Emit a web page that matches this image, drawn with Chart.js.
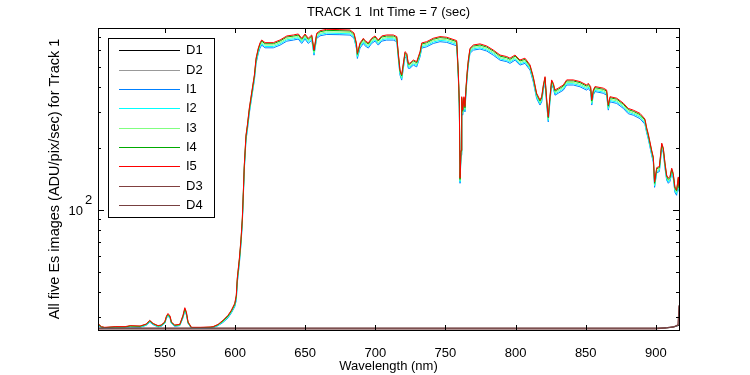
<!DOCTYPE html>
<html>
<head>
<meta charset="utf-8">
<script src="https://cdn.jsdelivr.net/npm/chart.js@4.4.1/dist/chart.umd.min.js"></script>
<style>
html, body { margin: 0; padding: 0; background: #fff; }
</style>
</head>
<body>
<canvas id="chart" width="750" height="375"></canvas>
<script>
// wavelengths (nm) for the five lit images
const wavelength = [502.3, 504.7, 507.1, 514.5, 521.6, 525.2, 532.3, 536.6, 539.2, 541.6,
	545.1, 547.3, 549.9, 551.1, 552.2, 553.7, 554.6, 557.0, 560.6, 562.9,
	564.2, 565.3, 566.5, 568.9, 575.1, 582.2, 584.3, 587.9, 591.4, 595.0,
	597.4, 599.8, 600.9, 601.6, 603.1, 604.3, 605.2, 605.9, 606.6, 607.8,
	608.8, 610.2, 611.9, 613.8, 615.0, 616.6, 617.8, 619.0, 621.4, 627.3,
	632.1, 636.9, 641.6, 645.1, 647.5, 649.9, 652.2, 654.7, 656.3, 658.2,
	660.6, 665.4, 674.8, 682.0, 684.8, 686.5, 687.2, 689.1, 691.5, 692.7,
	695.0, 697.4, 699.8, 702.1, 704.6, 708.1, 712.8, 715.3, 716.4, 717.6,
	718.8, 720.0, 721.2, 722.4, 723.5, 724.7, 727.1, 729.5, 730.7, 731.9,
	733.1, 736.6, 741.3, 746.1, 750.9, 758.0, 758.5, 759.2, 759.9, 760.4,
	761.1, 761.6, 762.3, 763.2, 763.9, 764.7, 765.6, 766.3, 767.5, 769.9,
	774.6, 779.4, 784.1, 788.9, 793.7, 796.0, 799.6, 803.1, 806.7, 810.3,
	812.6, 815.0, 817.4, 818.6, 819.8, 821.0, 822.2, 823.3, 824.5, 825.7,
	826.9, 828.1, 830.4, 834.0, 836.4, 841.1, 845.9, 850.7, 851.8, 853.5,
	854.3, 855.4, 856.6, 862.5, 864.9, 866.1, 867.3, 872.1, 876.8, 880.3,
	883.9, 888.7, 892.2, 893.4, 894.6, 895.8, 897.0, 898.2, 899.1, 900.6,
	902.5, 904.2, 905.3, 906.5, 907.7, 908.9, 910.1, 911.3, 912.4, 913.6,
	914.8, 916.0, 916.5];

const i5 = [28.0, 27.0, 26.8, 27.0, 27.0, 27.3, 27.2, 27.8, 29.0, 28.0,
	27.3, 27.5, 28.5, 30.4, 31.3, 30.4, 28.5, 27.5, 27.7, 30.7,
	33.4, 31.9, 28.5, 26.8, 26.8, 26.9, 27.0, 27.7, 29.0, 30.7,
	32.5, 35.1, 38.5, 46.6, 58.3, 73.0, 91.4, 122, 166, 232,
	260, 315, 376, 456, 551, 617, 653, 675, 655, 655,
	675, 706, 714, 722, 688, 722, 688, 714, 603, 728,
	749, 761, 758, 755, 730, 653, 581, 653, 688, 670,
	653, 688, 706, 675, 706, 714, 714, 701, 581, 482,
	456, 520, 592, 581, 520, 520, 539, 529, 560, 592,
	653, 662, 688, 701, 696, 670, 581, 464, 333, 143,
	196, 357, 307, 357, 319, 400, 482, 539, 615, 638,
	646, 631, 603, 570, 560, 550, 570, 539, 550, 510,
	447, 371, 344, 357, 407, 447, 344, 285, 357, 431,
	415, 385, 393, 407, 431, 431, 423, 407, 415, 400,
	344, 385, 400, 393, 385, 325, 357, 351, 332, 313,
	307, 296, 278, 253, 235, 215, 196, 181, 137, 161,
	163, 212, 201, 170, 148, 143, 146, 160, 151, 129.5,
	125, 145, 130];

const i4 = [27.8, 26.9, 26.7, 26.9, 26.9, 27.2, 27.1, 27.7, 28.8, 27.9,
	27.2, 27.4, 28.3, 30.2, 31.0, 30.1, 28.3, 27.4, 27.6, 30.4,
	33.0, 31.5, 28.3, 26.7, 26.7, 26.8, 26.9, 27.6, 28.8, 30.4,
	32.2, 34.7, 38.0, 46.0, 57.6, 72.1, 90.3, 121, 164, 229,
	257, 311, 371, 451, 544, 610, 645, 667, 647, 647,
	667, 698, 705, 713, 680, 713, 680, 705, 596, 719,
	740, 752, 749, 746, 721, 645, 574, 645, 680, 662,
	645, 680, 698, 667, 698, 705, 705, 693, 574, 476,
	451, 514, 585, 574, 514, 514, 533, 523, 553, 585,
	645, 654, 680, 693, 688, 662, 574, 458, 329, 141,
	194, 353, 303, 353, 315, 395, 476, 533, 608, 630,
	638, 623, 596, 563, 553, 543, 563, 533, 543, 504,
	442, 367, 340, 353, 402, 442, 340, 282, 353, 426,
	410, 380, 388, 402, 426, 426, 418, 402, 410, 395,
	340, 380, 395, 388, 380, 321, 353, 347, 328, 309,
	303, 292, 275, 250, 232, 212, 194, 179, 135, 159,
	161, 209, 199, 168, 146, 141, 144, 158, 149, 128,
	124, 143, 128];

const i3 = [27.7, 26.9, 26.7, 26.9, 26.9, 27.1, 27.0, 27.6, 28.7, 27.8,
	27.1, 27.3, 28.2, 30.0, 30.8, 30.0, 28.2, 27.3, 27.5, 30.2,
	32.7, 31.3, 28.2, 26.7, 26.7, 26.8, 26.9, 27.5, 28.6, 30.2,
	31.9, 34.4, 37.4, 45.3, 56.7, 71.0, 88.8, 119, 161, 226,
	253, 306, 365, 443, 536, 600, 635, 656, 637, 637,
	656, 686, 694, 702, 669, 702, 669, 694, 586, 708,
	728, 740, 737, 734, 710, 635, 565, 635, 669, 651,
	635, 669, 686, 656, 686, 694, 694, 681, 565, 469,
	443, 505, 575, 565, 505, 505, 524, 514, 544, 575,
	635, 643, 669, 681, 677, 651, 565, 451, 324, 139,
	191, 347, 298, 347, 310, 389, 469, 524, 598, 620,
	628, 613, 586, 554, 544, 535, 554, 524, 535, 496,
	434, 361, 334, 347, 396, 434, 334, 277, 347, 419,
	403, 374, 382, 396, 419, 419, 411, 396, 403, 389,
	334, 374, 389, 382, 374, 316, 347, 341, 323, 304,
	298, 288, 270, 246, 228, 209, 191, 176, 133, 156,
	158, 206, 195, 165, 144, 139, 142, 156, 147, 126,
	122, 141, 126];

const i2 = [27.6, 26.8, 26.6, 26.8, 26.8, 27.0, 26.9, 27.5, 28.6, 27.7,
	27.0, 27.2, 28.1, 29.9, 30.6, 29.8, 28.1, 27.2, 27.4, 30.0,
	32.5, 31.1, 28.1, 26.6, 26.6, 26.7, 26.8, 27.4, 28.5, 30.0,
	31.7, 34.1, 36.9, 44.6, 55.9, 69.9, 87.6, 117, 159, 222,
	249, 302, 360, 437, 528, 591, 626, 647, 627, 627,
	647, 676, 684, 692, 659, 692, 659, 684, 578, 697,
	718, 729, 726, 723, 699, 626, 557, 626, 659, 642,
	626, 659, 676, 647, 676, 684, 684, 672, 557, 462,
	437, 498, 567, 557, 498, 498, 516, 507, 536, 567,
	626, 634, 659, 672, 667, 642, 557, 445, 319, 137,
	188, 342, 294, 342, 306, 383, 462, 516, 589, 611,
	619, 604, 578, 546, 536, 527, 546, 516, 527, 489,
	428, 355, 330, 342, 390, 428, 330, 273, 342, 413,
	398, 369, 376, 390, 413, 413, 405, 390, 398, 383,
	330, 369, 383, 376, 369, 311, 342, 336, 318, 300,
	294, 284, 266, 242, 225, 206, 188, 173, 131, 154,
	156, 203, 193, 163, 142, 137, 140, 153, 145, 124,
	120, 139, 125];

const i1 = [27.5, 26.7, 26.5, 26.7, 26.7, 26.9, 26.8, 27.4, 28.4, 27.6,
	26.9, 27.1, 28.0, 29.7, 30.4, 29.6, 28.0, 27.1, 27.3, 29.8,
	32.2, 30.8, 28.0, 26.5, 26.5, 26.6, 26.7, 27.3, 28.3, 29.8,
	31.5, 33.8, 36.3, 44.0, 55.0, 68.9, 86.3, 115, 157, 219,
	245, 297, 355, 430, 520, 582, 616, 637, 618, 618,
	637, 666, 674, 682, 649, 682, 649, 674, 569, 687,
	707, 718, 716, 713, 689, 616, 548, 616, 649, 632,
	616, 649, 666, 637, 666, 674, 674, 662, 548, 455,
	430, 491, 559, 548, 491, 491, 509, 499, 529, 559,
	616, 625, 649, 662, 657, 632, 548, 438, 314, 135,
	185, 337, 290, 337, 301, 378, 455, 509, 581, 602,
	610, 596, 569, 538, 529, 519, 538, 509, 519, 481,
	422, 350, 325, 337, 384, 422, 325, 269, 337, 407,
	392, 363, 371, 384, 407, 407, 399, 384, 392, 378,
	325, 363, 378, 371, 363, 307, 337, 331, 313, 295,
	290, 279, 262, 239, 222, 203, 185, 171, 129, 152,
	154, 200, 190, 160, 140, 135, 138, 151, 143, 122,
	118, 137, 123];

// dark images
const darkWavelength = [502.3, 550, 600, 650, 700, 750, 800, 850, 900, 907.6, 912.9, 915.8, 916.5];
const d1 = [26.4, 26.4, 26.4, 26.4, 26.4, 26.4, 26.4, 26.4, 26.4, 26.6, 26.9, 27.3, 27.5];
const d2 = [26.5, 26.5, 26.5, 26.5, 26.5, 26.5, 26.5, 26.5, 26.5, 26.7, 27.0, 27.4, 28.0];
const d3 = [26.3, 26.3, 26.3, 26.3, 26.3, 26.3, 26.3, 26.3, 26.3, 26.6, 26.9, 27.5, 34.4];
const d4 = [26.6, 26.6, 26.6, 26.6, 26.6, 26.6, 26.6, 26.6, 26.6, 26.7, 27.0, 27.6, 34.0];

const xTicks = [550, 600, 650, 700, 750, 800, 850, 900];
const yMajorTicks = [100];
const yMinorTicks = [30, 40, 50, 60, 70, 80, 90, 200, 300, 400, 500, 600, 700];

const fontFam = "'Liberation Sans', Arial, sans-serif";

function toPoints(xs, ys) {
	return xs.map((w, k) => ({ x: w, y: ys[k] }));
}

function makeSet(label, xs, ys, color, order) {
	return {
		label: label,
		data: toPoints(xs, ys),
		borderColor: color,
		borderWidth: 1,
		pointRadius: 0,
		tension: 0,
		fill: false,
		order: order
	};
}

// box, inside ticks, 10^2 label and legend, matlab style
const matlabAxes = {
	id: 'matlabAxes',
	afterDraw(chart) {
		const { ctx, chartArea: a, scales: { x, y } } = chart;
		ctx.save();
		ctx.strokeStyle = '#000';
		ctx.lineWidth = 1;
		ctx.beginPath();
		xTicks.forEach(v => {
			const px = Math.round(x.getPixelForValue(v)) + 0.5;
			ctx.moveTo(px, a.bottom); ctx.lineTo(px, a.bottom - 5);
			ctx.moveTo(px, a.top); ctx.lineTo(px, a.top + 5);
		});
		yMajorTicks.forEach(v => {
			const py = Math.round(y.getPixelForValue(v)) + 0.5;
			ctx.moveTo(a.left, py); ctx.lineTo(a.left + 6, py);
			ctx.moveTo(a.right, py); ctx.lineTo(a.right - 6, py);
		});
		yMinorTicks.forEach(v => {
			const py = Math.round(y.getPixelForValue(v)) + 0.5;
			ctx.moveTo(a.left, py); ctx.lineTo(a.left + 3, py);
			ctx.moveTo(a.right, py); ctx.lineTo(a.right - 3, py);
		});
		ctx.stroke();
		ctx.strokeRect(a.left + 0.5, a.top + 0.5, a.right - a.left, a.bottom - a.top);

		// y tick label 10^2
		ctx.fillStyle = '#000';
		ctx.font = '13px ' + fontFam;
		ctx.textBaseline = 'middle';
		yMajorTicks.forEach(v => {
			const py = y.getPixelForValue(v);
			ctx.textAlign = 'right';
			ctx.fillText('10', a.left - 15, py + 1);
			ctx.textAlign = 'left';
			ctx.fillText(String(Math.round(Math.log10(v))), a.left - 13, py - 10);
		});

		// legend
		const lx = 108, ly = 38, lw = 106, lh = 179;
		ctx.fillStyle = '#fff';
		ctx.fillRect(lx, ly, lw, lh);
		ctx.strokeStyle = '#000';
		ctx.strokeRect(lx + 0.5, ly + 0.5, lw, lh);
		ctx.textAlign = 'left';
		chart.data.datasets.forEach((ds, i) => {
			const ry = Math.round(ly + 12.3 + i * 19.34) + 0.5;
			ctx.strokeStyle = ds.borderColor;
			ctx.beginPath();
			ctx.moveTo(119, ry); ctx.lineTo(180, ry);
			ctx.stroke();
			ctx.fillStyle = '#000';
			ctx.fillText(ds.label, 186, ry);
		});
		ctx.restore();
	}
};

new Chart(document.getElementById('chart'), {
	type: 'line',
	data: {
		datasets: [
			makeSet('D1', darkWavelength, d1, '#000000', 9),
			makeSet('D2', darkWavelength, d2, '#999999', 8),
			makeSet('I1', wavelength, i1, '#0080ff', 7),
			makeSet('I2', wavelength, i2, '#00ffff', 6),
			makeSet('I3', wavelength, i3, '#80ff80', 5),
			makeSet('I4', wavelength, i4, '#00aa00', 4),
			makeSet('I5', wavelength, i5, '#ff0000', 3),
			makeSet('D3', darkWavelength, d3, '#804040', 2),
			makeSet('D4', darkWavelength, d4, '#774040', 1)
		]
	},
	options: {
		responsive: false,
		animation: false,
		events: [],
		devicePixelRatio: 1,
		layout: { padding: { left: 0, right: 71, top: 0, bottom: 0 } },
		plugins: {
			legend: { display: false },
			tooltip: { enabled: false },
			title: {
				display: true,
				text: 'TRACK 1  Int Time = 7 (sec)',
				color: '#000',
				fullSize: false,
				font: { family: fontFam, size: 13, weight: 'normal' },
				padding: { top: 4.4, bottom: 8 }
			}
		},
		scales: {
			x: {
				type: 'linear',
				min: 502.3,
				max: 916.5,
				grid: { display: false },
				border: { display: false },
				afterBuildTicks: s => { s.ticks = xTicks.map(v => ({ value: v })); },
				afterFit: s => { s.height = 45; },
				ticks: {
					color: '#000',
					font: { family: fontFam, size: 13 },
					padding: 8,
					maxRotation: 0,
					autoSkip: false
				},
				title: {
					display: true,
					text: 'Wavelength (nm)',
					color: '#000',
					font: { family: fontFam, size: 13 },
					padding: { top: 0, bottom: 1 }
				}
			},
			y: {
				type: 'logarithmic',
				min: 26,
				max: 772,
				grid: { display: false },
				border: { display: false },
				ticks: { display: false },
				afterFit: s => { s.width = 98; },
				title: {
					display: true,
					text: 'All five Es images (ADU/pix/sec) for Track 1',
					color: '#000',
					font: { family: fontFam, size: 14.5 },
					padding: { top: 46, bottom: 0 }
				}
			}
		}
	},
	plugins: [matlabAxes]
});
</script>
</body>
</html>
